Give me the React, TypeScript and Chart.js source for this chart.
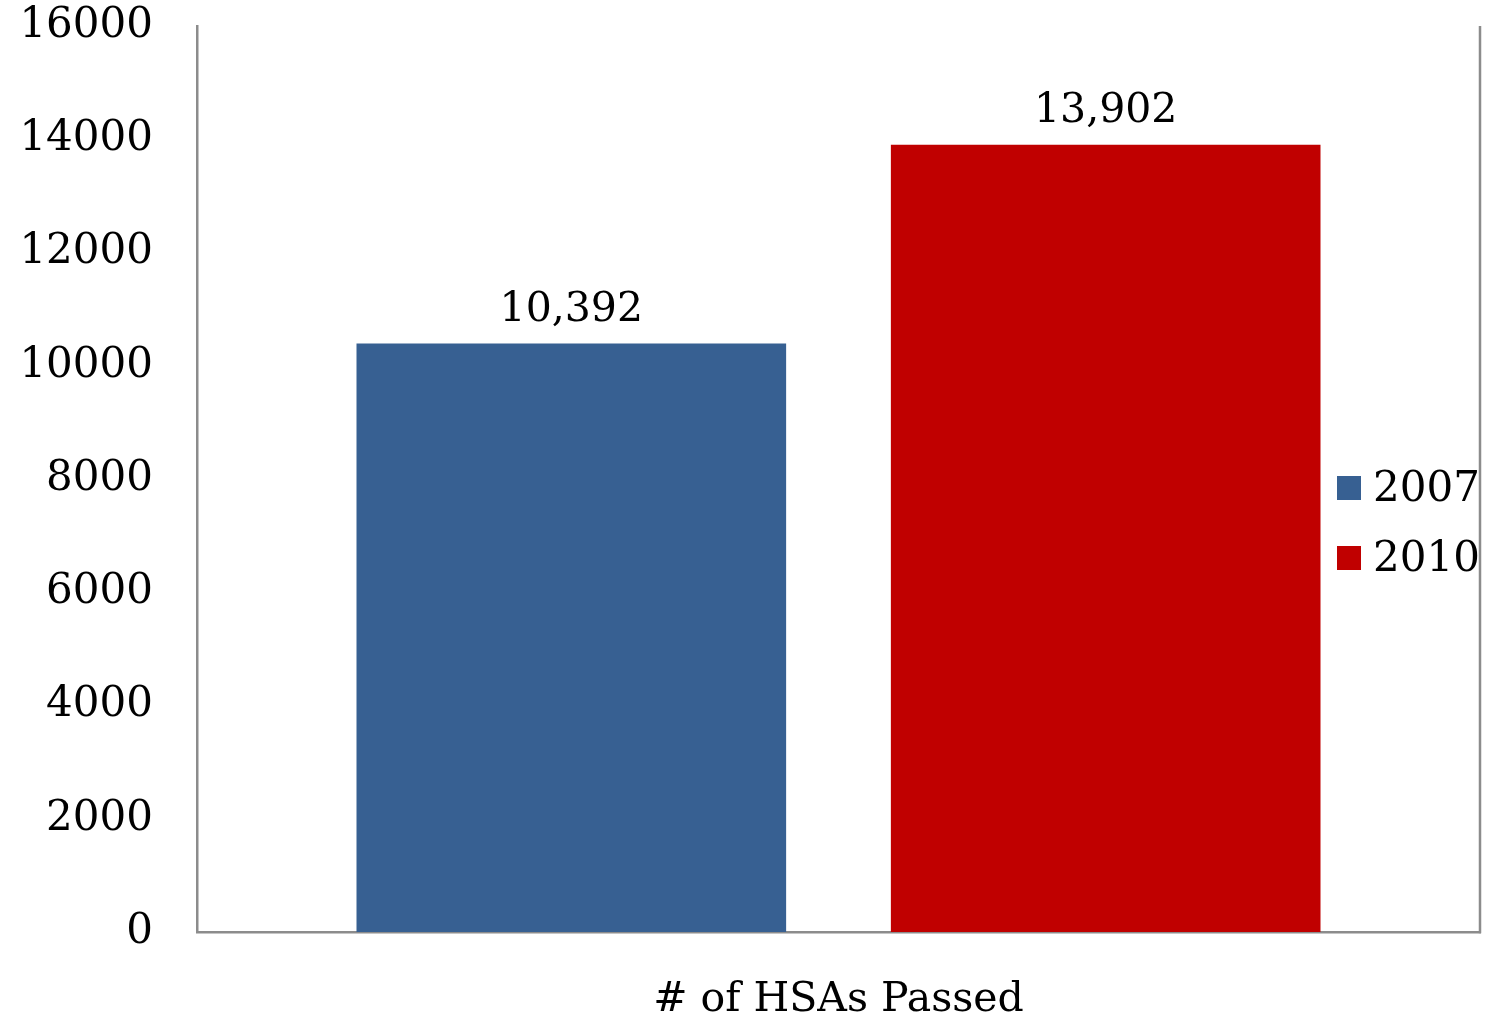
import React, { useEffect, useRef } from "react";
import { Chart, registerables } from "chart.js";

Chart.register(...registerables);

const categories = ["# of HSAs Passed"];
const seriesLabels = ["2007", "2010"];
const values2007 = [10392];
const values2010 = [13902];
const seriesColors = ["#376092", "#C00000"];
const yTicks = [0, 2000, 4000, 6000, 8000, 10000, 12000, 14000, 16000];

const FONT = "'DejaVu Serif', serif";
const BORDER = "#8c8c8c";

const extrasPlugin = {
  id: "extras",
  afterDatasetsDraw(chart: any) {
    const ctx = chart.ctx;
    const area = chart.chartArea;
    ctx.save();
    // right border of plot area
    ctx.strokeStyle = BORDER;
    ctx.lineWidth = 2.5;
    ctx.beginPath();
    ctx.moveTo(area.right, area.top);
    ctx.lineTo(area.right, area.bottom + 1.25);
    ctx.stroke();
    // data labels
    ctx.fillStyle = "#000";
    ctx.font = `41px ${FONT}`;
    ctx.textAlign = "center";
    ctx.textBaseline = "middle";
    chart.data.datasets.forEach((ds: any, i: number) => {
      const meta = chart.getDatasetMeta(i);
      meta.data.forEach((bar: any, j: number) => {
        const v = ds.data[j] as number;
        ctx.fillText(v.toLocaleString("en-US"), bar.x, bar.y - 33);
      });
    });
    // legend
    ctx.font = `42px ${FONT}`;
    chart.data.datasets.forEach((ds: any, i: number) => {
      const x = area.right - 143;
      const cy = area.top + 462 + i * 70;
      ctx.fillStyle = ds.backgroundColor;
      ctx.fillRect(x, cy - 12, 24, 24);
      ctx.fillStyle = "#000";
      ctx.textAlign = "left";
      ctx.fillText(ds.label, x + 36, cy + 2);
    });
    ctx.restore();
  },
};

export default function App() {
  const ref = useRef<HTMLCanvasElement>(null);
  useEffect(() => {
    if (!ref.current) return;
    const chart = new Chart(ref.current, {
      type: "bar",
      data: {
        labels: categories,
        datasets: [
          { label: seriesLabels[0], data: values2007, backgroundColor: seriesColors[0] },
          { label: seriesLabels[1], data: values2010, backgroundColor: seriesColors[1] },
        ],
      },
      options: {
        animation: false,
        responsive: true,
        maintainAspectRatio: false,
        layout: { padding: { left: 0, right: 7, top: 26, bottom: 0 } },
        datasets: { bar: { categoryPercentage: 0.833, barPercentage: 0.804 } },
        plugins: { legend: { display: false }, tooltip: { enabled: false } },
        scales: {
          x: {
            grid: { display: false, drawTicks: false },
            border: { display: true, color: BORDER, width: 2.5 },
            ticks: { color: "#000", font: { family: FONT, size: 41 }, padding: 44 },
            afterFit: (s: any) => { s.height = 90; s.paddingLeft = 0; s.paddingRight = 0; },
          },
          y: {
            min: 0,
            max: 16000,
            afterBuildTicks: (s: any) => { s.ticks = yTicks.map((v) => ({ value: v })); },
            grid: { display: false, drawTicks: false },
            border: { display: true, color: BORDER, width: 2.5 },
            ticks: { color: "#000", font: { family: FONT, size: 42 }, padding: 44, callback: (v: any) => String(v) },
            afterFit: (s: any) => { s.width = 197; s.paddingTop = 0; s.paddingBottom = 0; },
          },
        },
      },
      plugins: [extrasPlugin],
    });
    return () => chart.destroy();
  }, []);
  return (
    <div style={{ position: "fixed", left: 0, top: 0, width: 1487, height: 1022, background: "#fff" }}>
      <canvas ref={ref} />
    </div>
  );
}
